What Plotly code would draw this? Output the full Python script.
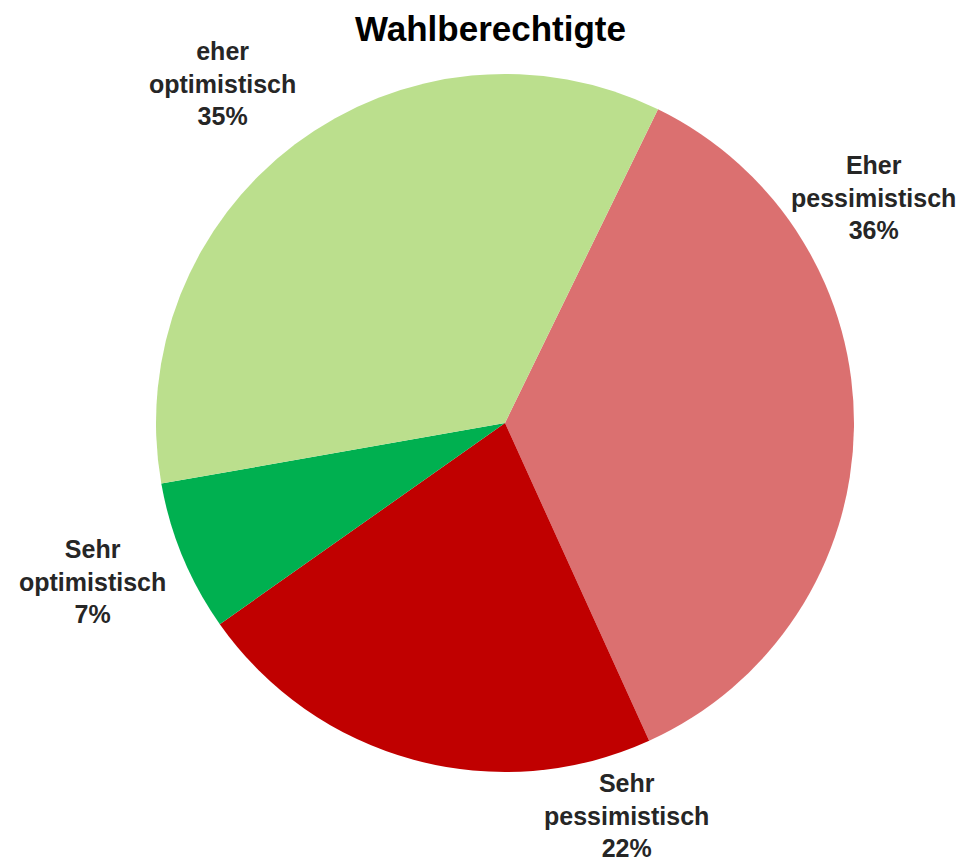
import plotly.graph_objects as go

labels = ["Eher<br>pessimistisch", "Sehr<br>pessimistisch", "Sehr<br>optimistisch", "eher<br>optimistisch"]
values = [36, 22, 7, 35]
colors = ["#DB7070", "#C00000", "#00B050", "#BBDF8D"]
title = "Wahlberechtigte"

# the page body has an 8px margin, so the figure is drawn 8px smaller and offset
OFF = 8
W, H = 967 - OFF, 861 - OFF


def fx(px):
    return (px - OFF) / W


def fy(py):
    return 1 - (py - OFF) / H


cx, cy, r = 505, 423, 349

fig = go.Figure(go.Pie(
    labels=labels,
    values=values,
    sort=False,
    direction="clockwise",
    rotation=26,
    marker=dict(colors=colors, line=dict(width=0)),
    textinfo="none",
    hoverinfo="skip",
    showlegend=False,
    domain=dict(x=[fx(cx - r), fx(cx + r)], y=[fy(cy + r), fy(cy - r)]),
))

# label placement (layout positions, in reference pixels)
label_pos = [(873, 198), (626, 815), (92, 581), (222, 83)]
for lab, val, (px, py) in zip(labels, values, label_pos):
    fig.add_annotation(
        x=fx(px), y=fy(py), xref="paper", yref="paper",
        text=f"<b>{lab}<br>{val}%</b>", showarrow=False,
        font=dict(family="Liberation Sans, Arial", size=25, color="#262626"),
        xanchor="center", yanchor="middle", align="center",
    )

# chart title
fig.add_annotation(
    x=fx(490), y=1.0, xref="paper", yref="paper",
    text=f"<b>{title}</b>", showarrow=False, borderpad=0,
    font=dict(family="Liberation Sans, Arial", size=35, color="#000000"),
    xanchor="center", yanchor="top",
)

fig.update_layout(
    width=W, height=H,
    margin=dict(l=0, r=0, t=0, b=0),
    paper_bgcolor="white", plot_bgcolor="white",
)

fig.write_html("out.html")
